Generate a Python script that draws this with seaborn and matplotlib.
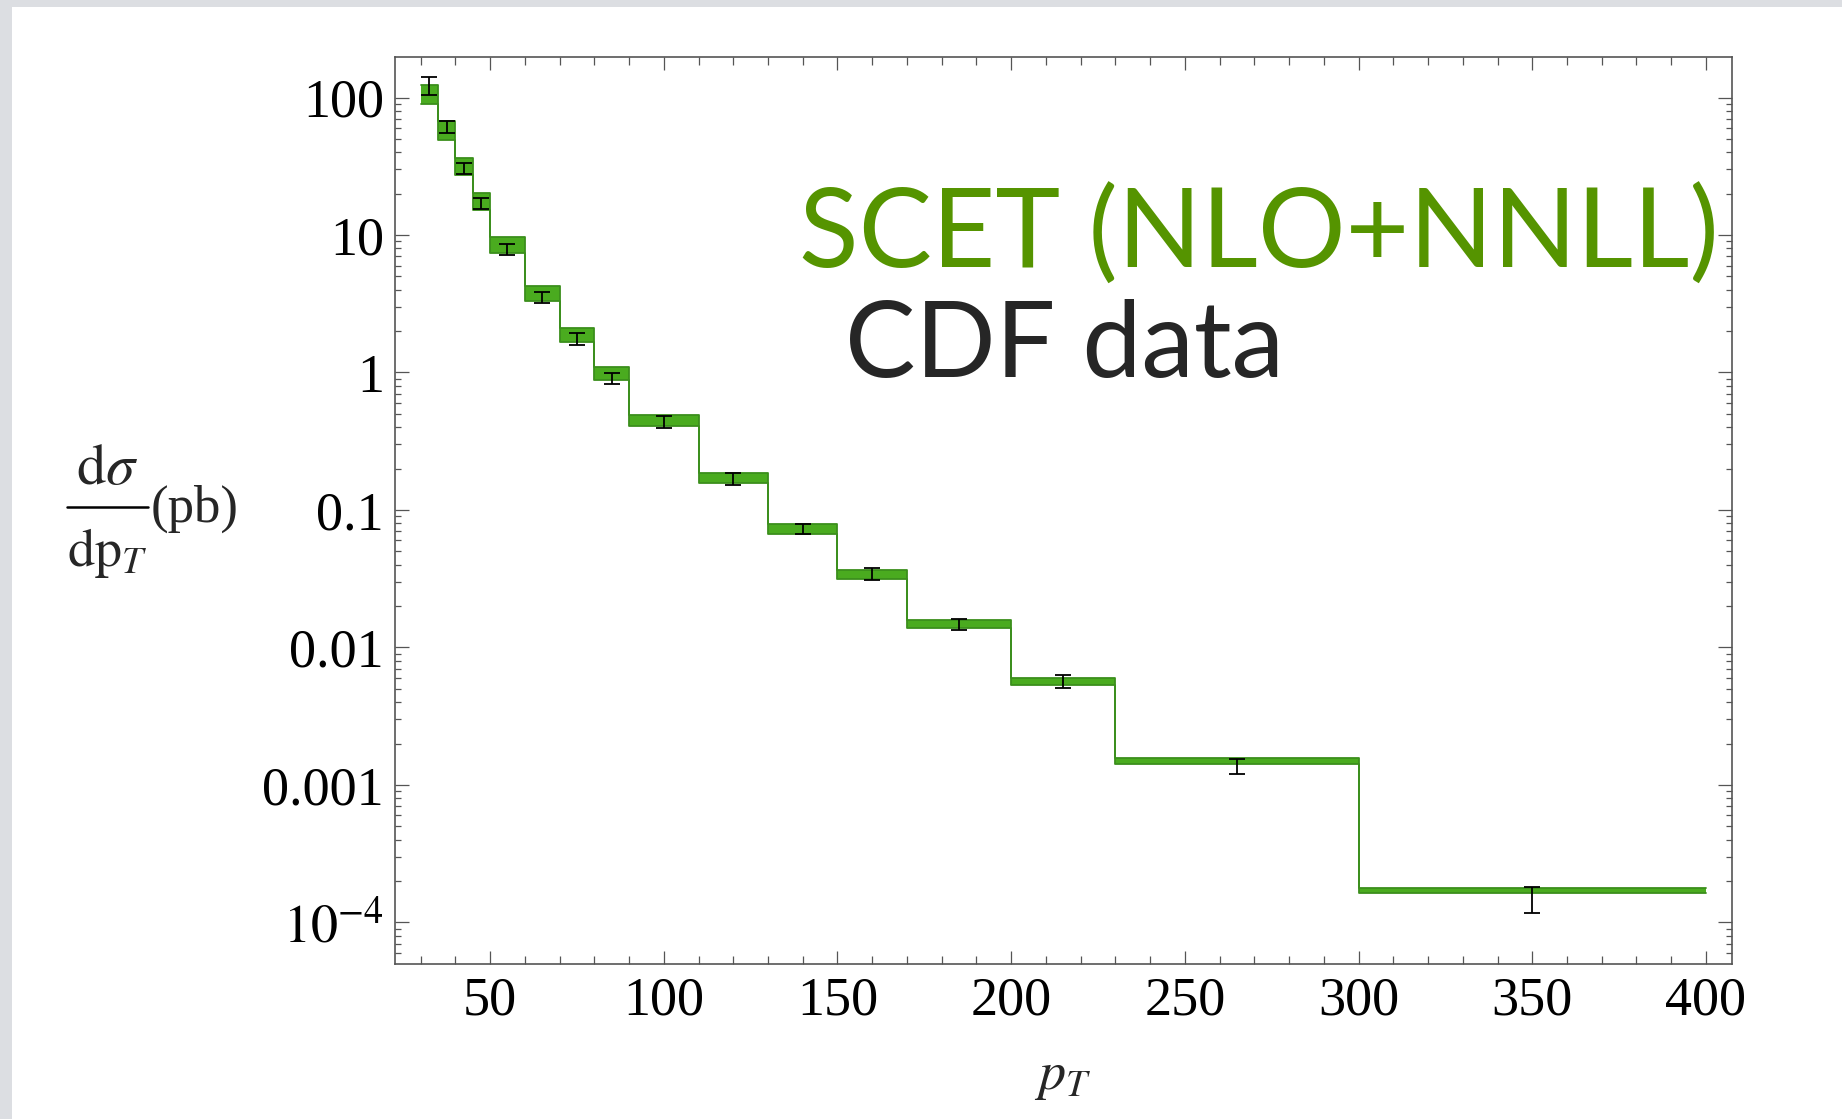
import numpy as np
import matplotlib
matplotlib.use("Agg")
import matplotlib.pyplot as plt
from matplotlib.patches import Rectangle
from matplotlib.lines import Line2D
from matplotlib.ticker import MultipleLocator, LogLocator, NullFormatter
import seaborn as sns

# bin edges (GeV) and SCET band limits per bin
bin_edges = [30, 35, 40, 45, 50, 60, 70, 80, 90, 110, 130, 150, 170, 200, 230, 300, 400]
scet_hi = [123, 67.6, 36.2, 20.2, 9.6, 4.24, 2.09, 1.09, 0.493, 0.185, 0.0792,
           0.0367, 0.0158, 0.00604, 0.00157, 0.000178]
scet_lo = [89, 49, 27.2, 15.2, 7.4, 3.33, 1.66, 0.885, 0.406, 0.156, 0.0671,
           0.0316, 0.0138, 0.00534, 0.00143, 0.000164]

# CDF data: bin centres and error bar ends
cdf_pt = [32.5, 37.5, 42.5, 47.5, 55, 65, 75, 85, 100, 120, 140, 160, 185, 215, 265, 350]
cdf_hi = [141, 68, 33.5, 18.7, 8.6, 3.85, 1.93, 0.99, 0.482, 0.185, 0.079,
          0.0377, 0.0162, 0.00635, 0.00154, 0.000180]
cdf_lo = [104, 55, 28, 15.5, 7.2, 3.19, 1.58, 0.83, 0.396, 0.153, 0.0664,
          0.0307, 0.0133, 0.00505, 0.00121, 0.000118]

ytick_vals = [1e-4, 1e-3, 1e-2, 0.1, 1, 10, 100]
ytick_labels = [r"$10^{-4}$", "0.001", "0.01", "0.1", "1", "10", "100"]
xtick_vals = [50, 100, 150, 200, 250, 300, 350, 400]

sns.set_theme(style="ticks")
plt.rcParams["font.family"] = ["Liberation Serif", "DejaVu Serif"]
plt.rcParams["mathtext.fontset"] = "stix"

band_fill = "#4aab1f"
band_edge = "#3b8f1c"
frame_col = "#555555"
W, H = 1842, 1119

fig = plt.figure(figsize=(18.42, 11.19), dpi=100)
fig.patch.set_facecolor("white")
# grey window border of the original screenshot
fig.patches.append(Rectangle((0, 0), 0.0065, 1, transform=fig.transFigure,
                             facecolor="#dcdee2", edgecolor="none"))
fig.patches.append(Rectangle((0, 0.9937), 1, 0.0063, transform=fig.transFigure,
                             facecolor="#dcdee2", edgecolor="none"))

ax = fig.add_axes([0.2144, 0.1388, 0.7257, 0.8103])

hi_ext = scet_hi + [scet_hi[-1]]
lo_ext = scet_lo + [scet_lo[-1]]
ax.fill_between(bin_edges, lo_ext, hi_ext, step="post", color=band_fill, lw=0, zorder=2)
sns.lineplot(x=bin_edges, y=hi_ext, drawstyle="steps-post", color=band_edge,
             lw=1.3, ax=ax, zorder=3)
sns.lineplot(x=bin_edges, y=lo_ext, drawstyle="steps-post", color=band_edge,
             lw=1.3, ax=ax, zorder=3)

cdf_mid = np.sqrt(np.array(cdf_hi) * np.array(cdf_lo))
yerr = [cdf_mid - np.array(cdf_lo), np.array(cdf_hi) - cdf_mid]
ax.errorbar(cdf_pt, cdf_mid, yerr=yerr, fmt="none", ecolor="black",
            elinewidth=1.3, capsize=6, capthick=1.3, zorder=4)

ax.set_yscale("log")
ax.set_xlim(22.6, 407.4)
ax.set_ylim(10 ** -4.30, 10 ** 2.295)

ax.set_xticks(xtick_vals)
ax.set_xticklabels([str(v) for v in xtick_vals])
ax.xaxis.set_minor_locator(MultipleLocator(10))
ax.set_yticks(ytick_vals)
ax.set_yticklabels(ytick_labels)
ax.yaxis.set_minor_locator(LogLocator(base=10, subs=range(2, 10), numticks=20))
ax.yaxis.set_minor_formatter(NullFormatter())

ax.tick_params(which="both", direction="in", top=True, right=True,
               color=frame_col, width=0.9, labelsize=39, labelcolor="black")
ax.tick_params(axis="x", which="major", length=9.5, pad=9)
ax.tick_params(axis="x", which="minor", length=5.5)
ax.tick_params(axis="y", which="major", length=10, pad=8)
ax.tick_params(axis="y", which="minor", length=4)
for sp in ax.spines.values():
    sp.set_color(frame_col)
    sp.set_linewidth(1.2)

ax.set_xlabel("")
ax.set_ylabel("")
fig.text(0.5771, 0.0375, r"$p_T$", fontsize=39, ha="center", va="center")

# y label: d sigma / d pT (pb), built as a stacked fraction
fig.add_artist(Line2D([67 / W, 148 / W], [1 - 507 / H] * 2, color="black", lw=1.8))
fig.text(107.5 / W, 1 - 484 / H, r"$\mathrm{d}\sigma$", fontsize=42,
         ha="center", va="baseline")
fig.text(107.5 / W, 1 - 566 / H, r"$\mathrm{dp}_T$", fontsize=39,
         ha="center", va="baseline")
fig.text(151 / W, 1 - 522 / H, "(pb)", fontsize=38, ha="left", va="baseline")

fig.text(0.9332, 0.7611, "SCET (NLO+NNLL)", family=["Lato", "DejaVu Sans"],
         fontsize=79, color="#559400", ha="right", va="baseline")
fig.text(0.4587, 0.6634, "CDF data", family=["Lato", "DejaVu Sans"],
         fontsize=76, color="#262626", ha="left", va="baseline")

fig.savefig("out.png", dpi=100)
